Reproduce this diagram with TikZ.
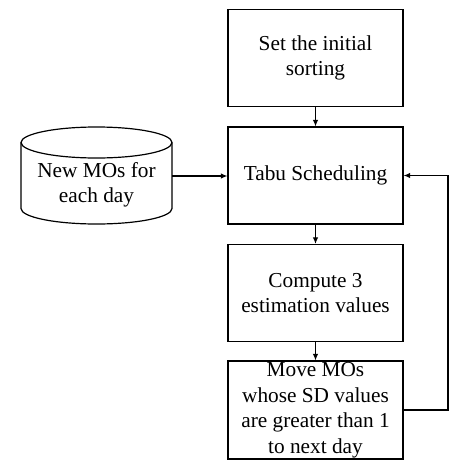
\documentclass[tikz,border=0pt]{standalone}
\usepackage{fontspec}
\setmainfont{Liberation Serif}
\usetikzlibrary{arrows.meta}
\begin{document}
\begin{tikzpicture}[x=1pt,y=-1pt,
  every node/.style={font=\fontsize{21.3}{25.5}\selectfont},
  stepbox/.style={draw,line width=1.2pt,minimum width=175pt,minimum height=97pt,inner sep=0pt,align=center},
  arr/.style={line width=1.1pt,-{Latex[length=6.5pt,width=5.5pt]}},
  ln/.style={line width=1.1pt}]
\useasboundingbox (0,0) rectangle (474,474);
\node[stepbox] (b1) at (315.5,58) {Set the initial\\sorting};
\node[stepbox] (b2) at (315.5,175.5) {Tabu Scheduling};
\node[stepbox] (b3) at (315.5,293) {Compute 3\\estimation values};
\node[stepbox,minimum height=98pt] (b4) at (315.5,410) {Move MOs\\whose SD values\\are greater than 1\\to next day};
% cylinder
\draw[line width=1.2pt] (96.5,142.5) ellipse [x radius=75.5, y radius=15.5];
\draw[line width=1.2pt] (21,142.5) -- (21,208.5) arc[start angle=180,end angle=0,x radius=75.5,y radius=15.5] -- (172,142.5);
\node[align=center,inner sep=0pt] (db) at (96.5,185) {New MOs for\\each day};
\coordinate (dbr) at (172,176);
\coordinate (fb) at (448,0);
\draw[arr] (dbr) -- (dbr -| b2.west);
\draw[arr] (b1) -- (b2);
\draw[arr] (b2) -- (b3);
\draw[arr] (b3) -- (b4);
\draw[arr] (b4.east) -- (b4.east -| fb) -- (b2.east -| fb) -- (b2.east);
\end{tikzpicture}
\end{document}
